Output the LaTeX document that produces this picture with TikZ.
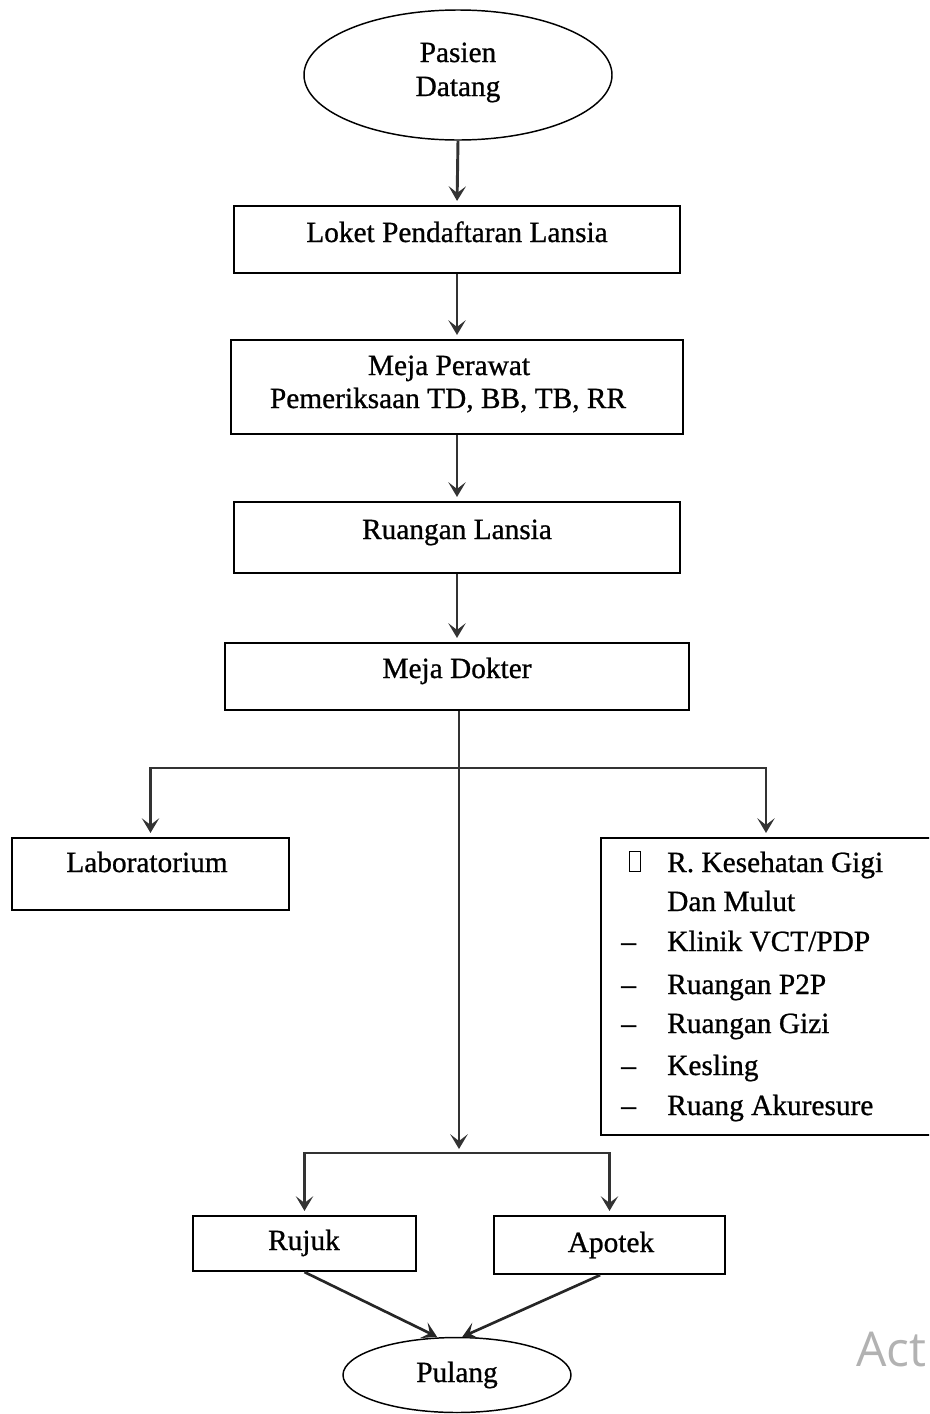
\documentclass[tikz,border=0pt]{standalone}
\usepackage{fontspec}
\setmainfont{Liberation Serif}[FakeBold=0.8]
\newfontfamily\wmfont{Open Sans}
\usetikzlibrary{arrows.meta,shapes.geometric,fit}
\begin{document}
\begin{tikzpicture}[x=0.75pt,y=-0.75pt,
  box/.style={draw,line width=1.6pt,inner sep=0pt,rectangle},
  oval/.style={draw,line width=1.1pt,ellipse,inner sep=0pt},
  txt/.style={inner sep=0pt,anchor=base,font=\fontsize{22}{26}\selectfont},
  txtl/.style={txt,anchor=base west},
  tip/.style={-{Stealth[length=11pt,width=13pt,inset=5pt]}},
  arr/.style={line width=2.2pt,draw=black!80,tip,shorten >=3pt},
  arrt/.style={line width=2pt,draw=black!85,tip},
  ln/.style={line width=2pt,draw=black}
]
\useasboundingbox (0,0) rectangle (929,1414);
\clip (0,0) rectangle (929,1414);

% shapes
\node[oval,minimum width=231pt,minimum height=97.5pt] (pasien) at (458,75) {};
\node[box,fit={(234,206)(680,273)}] (loket) {};
\node[box,fit={(231,340)(683,434)}] (perawat) {};
\node[box,fit={(234,502)(680,573)}] (ruangan) {};
\node[box,fit={(225,643)(689,710)}] (dokter) {};
\node[box,fit={(12,838)(289,910)}] (lab) {};
\node[box,fit={(601,838)(931,1135)}] (rt) {};
\node[box,fit={(193,1216)(416,1271)}] (rujuk) {};
\node[box,fit={(494,1216)(725,1274)}] (apotek) {};
\node[oval,minimum width=171pt,minimum height=56.25pt] (pulang) at (457,1375) {};

% texts
\node[txt] (tpasien) at (458,62) {Pasien};
\node[txt] (tdatang) at (458,96) {Datang};
\node[txt] (tloket) at (457,242) {Loket Pendaftaran Lansia};
\node[txt] (tperawat1) at (449,375) {Meja Perawat};
\node[txt] (tperawat2) at (448,408) {Pemeriksaan TD, BB, TB, RR};
\node[txt] (truangan) at (457,539) {Ruangan Lansia};
\node[txt] (tdokter) at (457,678) {Meja Dokter};
\node[txt] (tlab) at (147,872) {Laboratorium};
\node[txt] (trujuk) at (304,1250) {Rujuk};
\node[txt] (tapotek) at (611,1252) {Apotek};
\node[txt] (tpulang) at (457,1382) {Pulang};

\node[draw,line width=0.9pt,minimum width=8pt,minimum height=15pt,inner sep=0pt] (bullet) at (635,861.5) {};
\node[txtl] (r1) at (667,872) {R. Kesehatan Gigi};
\node[txtl] (r2) at (667,911) {Dan Mulut};
\node[txtl] (d3) at (621,951) {–};
\node[txtl] (r3) at (667,951) {Klinik VCT/PDP};
\node[txtl] (d4) at (621,994) {–};
\node[txtl] (r4) at (667,994) {Ruangan P2P};
\node[txtl] (d5) at (621,1033) {–};
\node[txtl] (r5) at (667,1033) {Ruangan Gizi};
\node[txtl] (d6) at (621,1075) {–};
\node[txtl] (r6) at (667,1075) {Kesling};
\node[txtl] (d7) at (621,1115) {–};
\node[txtl] (r7) at (667,1115) {Ruang Akuresure};

\node[inner sep=0pt,anchor=base west,text=black!30,font=\wmfont\fontsize{36}{36}\selectfont] (wm) at (856,1366) {Act};

% connectors
\coordinate (j1) at (459,768);
\coordinate (j2) at (459,1153);
\draw[arr] (pasien.south) -- (loket.north);
\draw[arr] (loket.south) -- (perawat.north);
\draw[arr] (perawat.south) -- (ruangan.north);
\draw[arr] (ruangan.south) -- (dokter.north);
\draw[arr] (dokter.south -| j1) -- (j2);
\draw[arr] (j1) -| (lab.north);
\draw[arr] (j1) -| (rt.north);
\draw[arr] (j2) -| (rujuk.north);
\draw[arr] (j2) -| (apotek.north);
\draw[arrt] (rujuk.south) -- ([xshift=-15pt]pulang.north);
\draw[arrt] ([xshift=-7pt]apotek.south) -- ([xshift=4pt]pulang.north);
\end{tikzpicture}
\end{document}
